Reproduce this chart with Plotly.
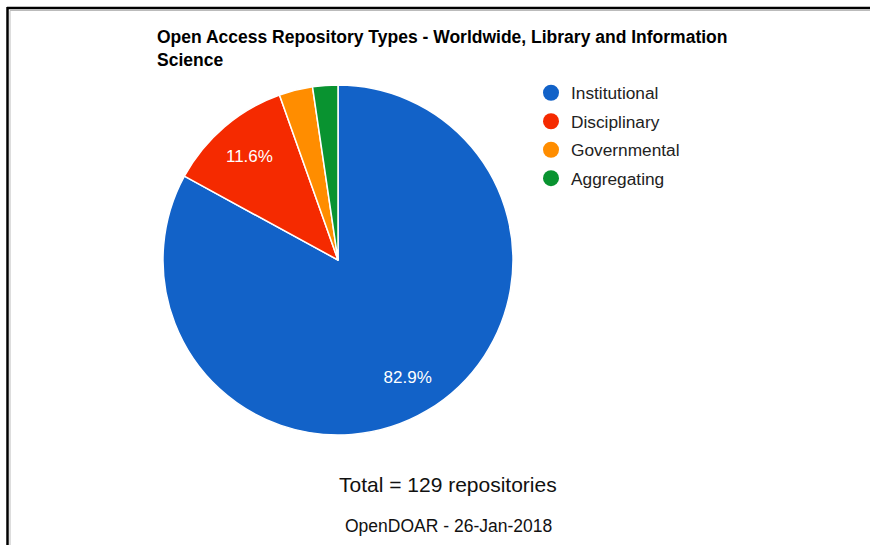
import plotly.graph_objects as go

types = ['Institutional', 'Disciplinary', 'Governmental', 'Aggregating']
counts = [107, 15, 4, 3]
colors = ['#1262c8', '#f52a00', '#ff8d00', '#099330']
title = 'Open Access Repository Types - Worldwide, Library and Information<br>Science'
total_text = 'Total = 129 repositories'
source_text = 'OpenDOAR - 26-Jan-2018'

W, H = 870, 545
FONT = 'Liberation Sans, Arial'
dom = dict(x=[163/W, 513/W], y=[1-435/H, 1-85/H])

fig = go.Figure()
# coloured slices
fig.add_trace(go.Pie(
    labels=types, values=counts, sort=False, direction='clockwise', rotation=0,
    marker=dict(colors=colors, line=dict(color='#ffffff', width=1.5)),
    textinfo='none', domain=dom, showlegend=False,
    hoverinfo='label+value+percent'))
# transparent ring that only carries the labels (puts them at ~0.78 R)
fig.add_trace(go.Pie(
    labels=types, values=counts, sort=False, direction='clockwise', rotation=0,
    hole=0.56, marker=dict(colors=['rgba(0,0,0,0)'] * 4, line=dict(width=0)),
    texttemplate=['%{percent:.1%}', '%{percent:.1%}', '', ''],
    textposition='inside', insidetextorientation='horizontal',
    textfont=dict(color='#ffffff', size=17, family=FONT),
    domain=dom, showlegend=False, hoverinfo='skip'))

# legend entries with round markers
for name, c in zip(types, colors):
    fig.add_trace(go.Scatter(x=[None], y=[None], mode='markers', name=name,
        legendgroup=name, marker=dict(symbol='circle', size=17, color=c)))

fig.update_layout(
    width=W, height=H, margin=dict(l=0, r=0, t=0, b=0),
    paper_bgcolor='#ffffff', plot_bgcolor='#ffffff',
    font=dict(family=FONT, color='#222222'),
    title=dict(text='<b>' + title + '</b>', x=157/W, xanchor='left',
               y=1-43/H, yanchor='top', font=dict(size=17.5, color='#000000')),
    xaxis=dict(visible=False), yaxis=dict(visible=False),
    legend=dict(x=531/W, xanchor='left', y=1-75/H, yanchor='top',
                font=dict(size=17.3, color='#222222'), tracegroupgap=3,
                bgcolor='rgba(0,0,0,0)'),
    annotations=[
        dict(text=total_text, x=448/W, y=1-484/H, xref='paper', yref='paper',
             yanchor='middle', showarrow=False, font=dict(size=21, color='#111111')),
        dict(text=source_text, x=448/W, y=1-526/H, xref='paper', yref='paper',
             yanchor='middle', showarrow=False, font=dict(size=17.5, color='#111111')),
    ],
    shapes=[
        dict(type='line', xref='paper', yref='paper', x0=7/W, x1=1, y0=1-8/H, y1=1-8/H,
             line=dict(color='#000000', width=2.5)),
        dict(type='line', xref='paper', yref='paper', x0=7.5/W, x1=7.5/W, y0=0, y1=1-7/H,
             line=dict(color='#000000', width=2.5)),
        dict(type='line', xref='paper', yref='paper', x0=10/W, x1=1, y0=1-10.5/H, y1=1-10.5/H,
             line=dict(color='#bbbbbb', width=1)),
        dict(type='line', xref='paper', yref='paper', x0=10/W, x1=10/W, y0=0, y1=1-10.5/H,
             line=dict(color='#bbbbbb', width=1)),
    ],
)

fig.write_html('out.html', config={'displayModeBar': False},
               post_script="document.body.style.margin='0';")
